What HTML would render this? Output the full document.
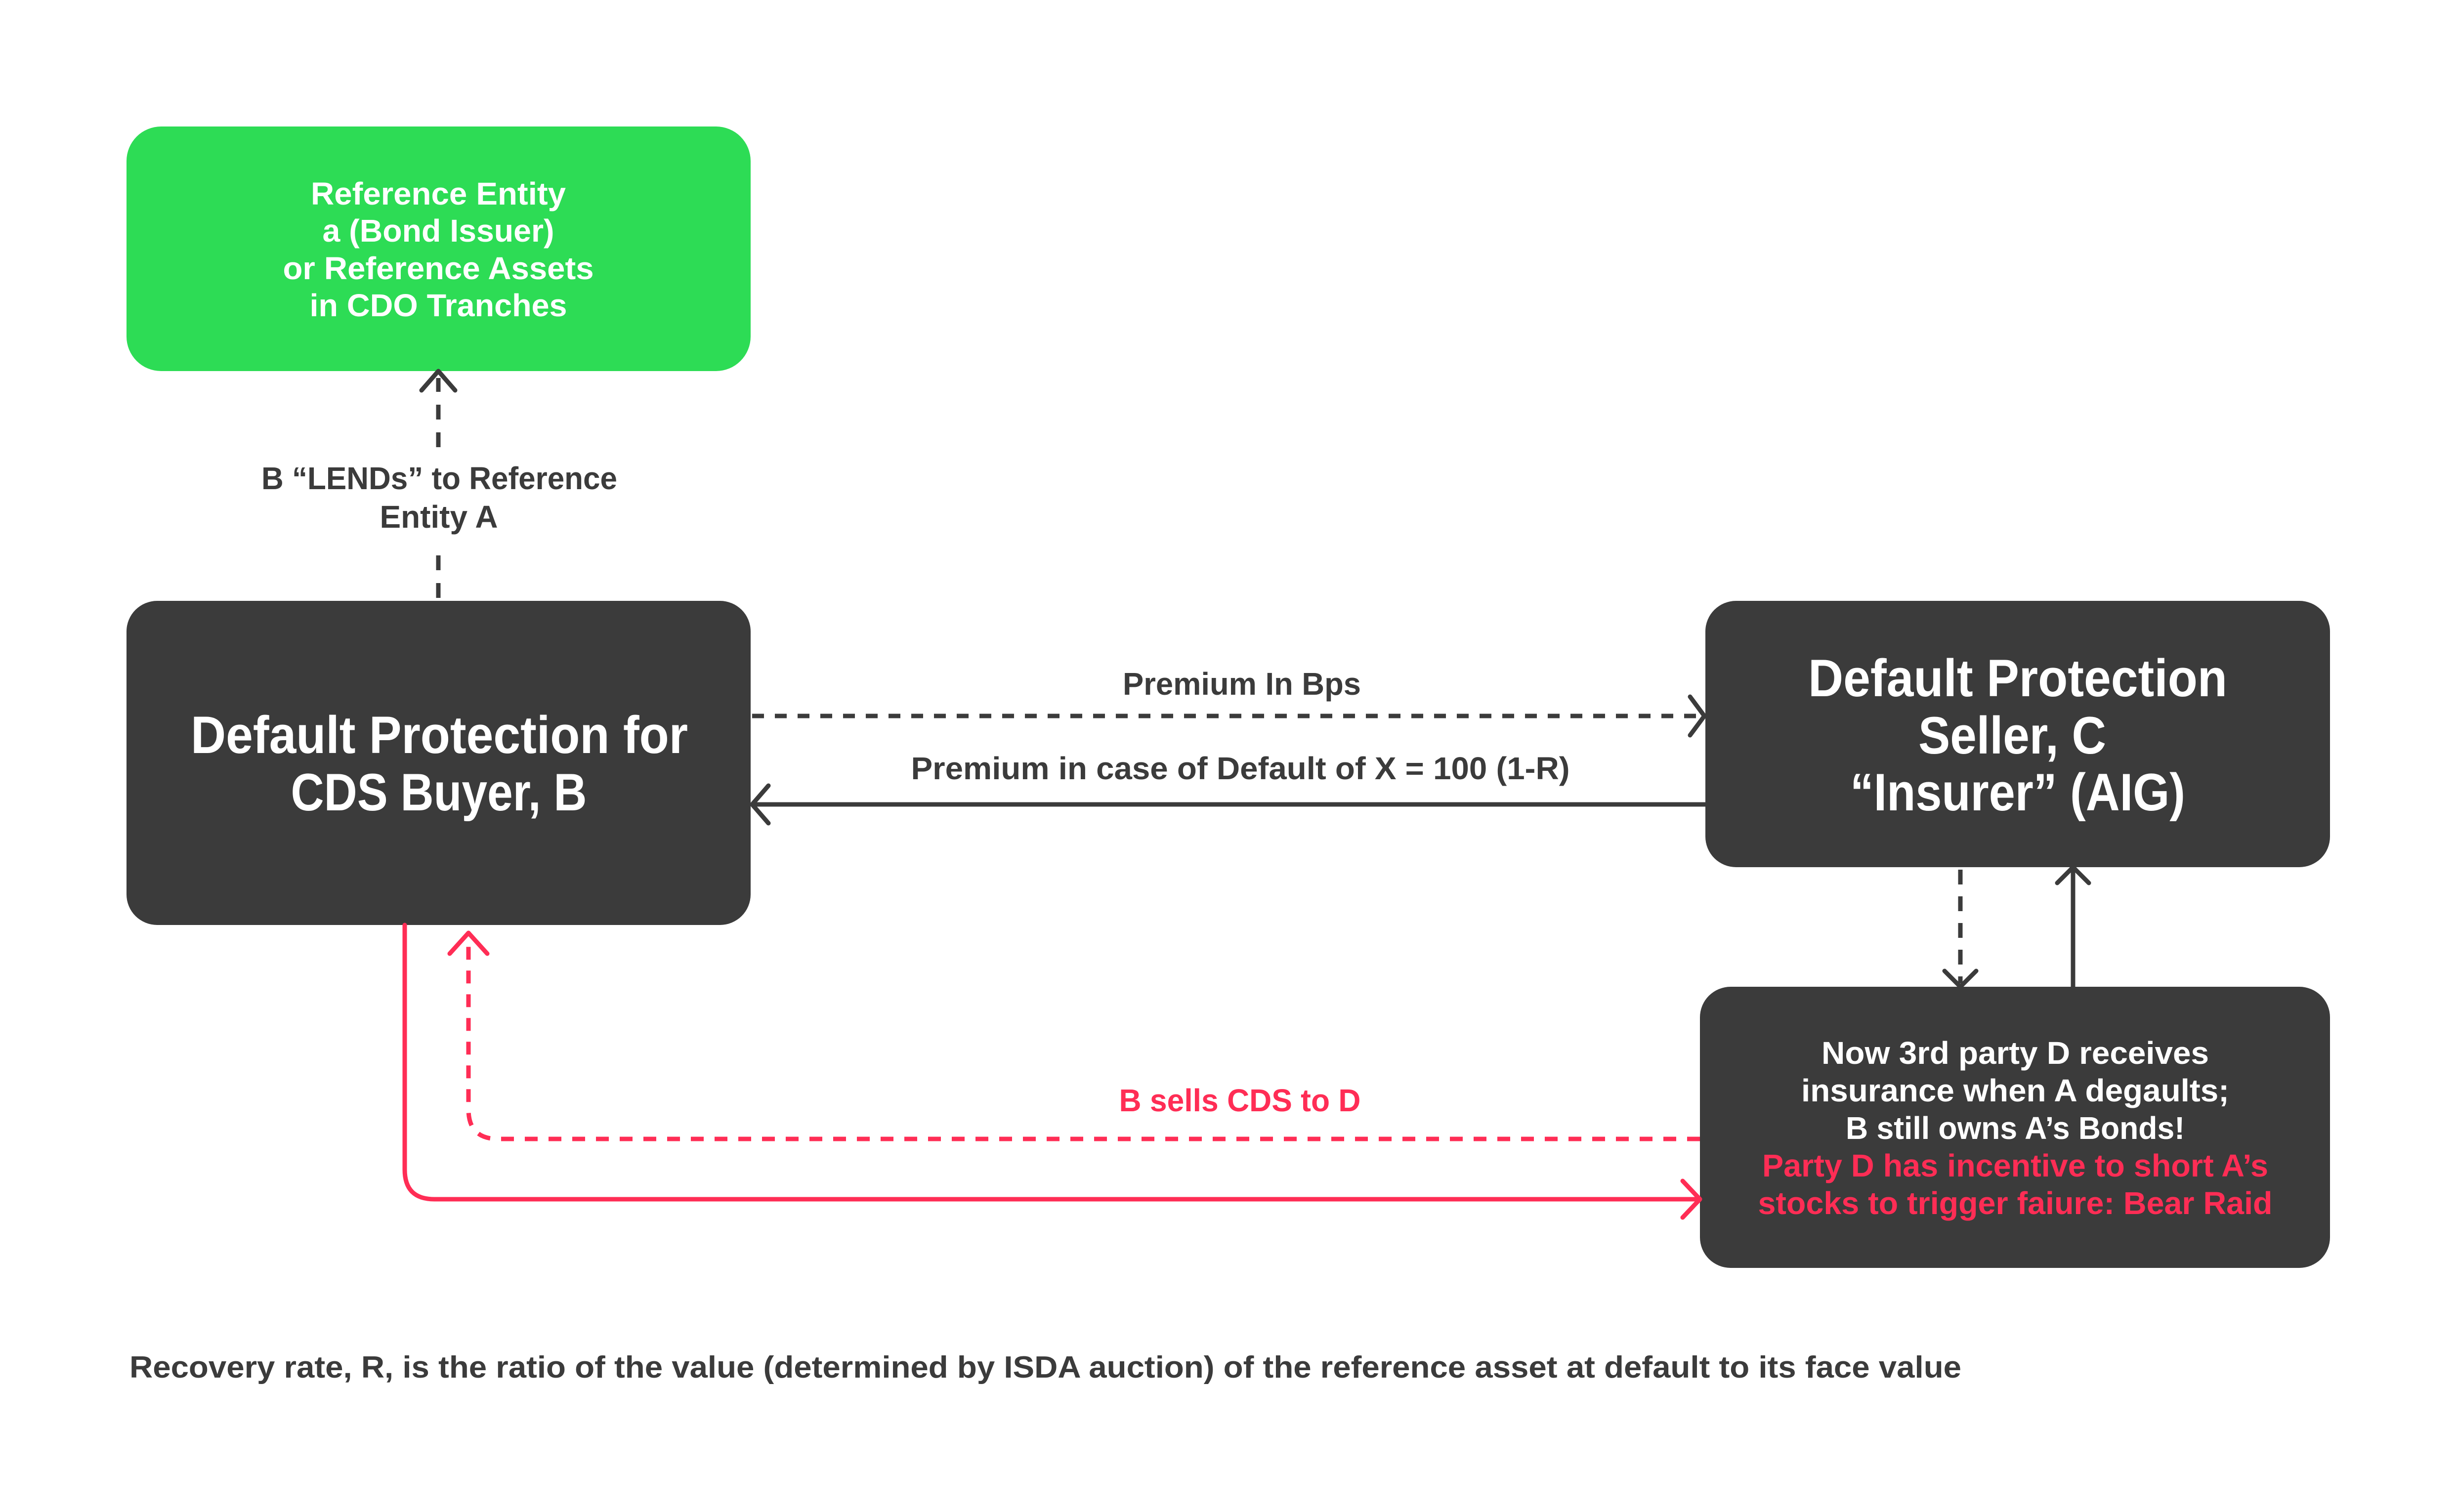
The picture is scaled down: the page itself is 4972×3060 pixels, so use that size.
<!DOCTYPE html>
<html><head><meta charset="utf-8"><style>
html,body{margin:0;padding:0;background:#fff}
svg{display:block}
text{font-family:"Liberation Sans",sans-serif;font-weight:bold}
</style></head><body>
<svg width="4972" height="3060" viewBox="0 0 4972 3060" xmlns="http://www.w3.org/2000/svg">
<rect width="4972" height="3060" fill="#fff"/>
<rect x="256" y="256" width="1263" height="495" rx="70" fill="#2ddc55"/>
<rect x="256" y="1216" width="1263" height="656" rx="62" fill="#3b3b3b"/>
<rect x="3451" y="1216" width="1264" height="539" rx="62" fill="#3b3b3b"/>
<rect x="3440" y="1997" width="1275" height="569" rx="62" fill="#3b3b3b"/>

<g fill="none" stroke="#3b3b3b" stroke-width="9" stroke-linecap="round" stroke-linejoin="round">
<path d="M887 1210 V1110" stroke-dasharray="30 26" stroke-linecap="butt"/>
<path d="M887 905 V765" stroke-dasharray="30 26" stroke-linecap="butt"/>
<path d="M853 790 L887 751 L921 790"/>
<path d="M1522 1449 H3440" stroke-dasharray="24 22" stroke-linecap="butt"/>
<path d="M3420 1410 L3449 1449 L3420 1488"/>
<path d="M3451 1628 H1525"/>
<path d="M1555 1590 L1522 1628 L1555 1666"/>
<path d="M3967 1760 V1990" stroke-dasharray="30 24" stroke-linecap="butt"/>
<path d="M3935 1965 L3967 1997 L3999 1965"/>
<path d="M4195 1997 V1758"/>
<path d="M4163 1787 L4195 1755 L4227 1787"/>
</g>
<g fill="none" stroke="#ff2d55" stroke-width="9" stroke-linecap="round" stroke-linejoin="round">
<path d="M3440 2305 H1008 Q948 2305 948 2245 V1895" stroke-dasharray="26 22" stroke-linecap="butt"/>
<path d="M910 1930 L948 1888 L986 1930"/>
<path d="M819 1872 V2367 Q819 2427 879 2427 H3436"/>
<path d="M3405 2390 L3440 2427 L3405 2464"/>
</g>

<g fill="#fff" text-anchor="middle" font-size="64">
<text x="887" y="414" textLength="516" lengthAdjust="spacingAndGlyphs">Reference Entity</text>
<text x="887" y="489" textLength="469" lengthAdjust="spacingAndGlyphs">a (Bond Issuer)</text>
<text x="887" y="565" textLength="629" lengthAdjust="spacingAndGlyphs">or Reference Assets</text>
<text x="887" y="640" textLength="521" lengthAdjust="spacingAndGlyphs">in CDO Tranches</text>
</g>
<g fill="#3b3b3b" text-anchor="middle" font-size="64">
<text x="889" y="990" textLength="720" lengthAdjust="spacingAndGlyphs">B “LENDs” to Reference</text>
<text x="888" y="1068" textLength="239" lengthAdjust="spacingAndGlyphs">Entity A</text>
<text x="2513" y="1406" textLength="482" lengthAdjust="spacingAndGlyphs">Premium In Bps</text>
<text x="2510" y="1577" textLength="1333" lengthAdjust="spacingAndGlyphs">Premium in case of Default of X = 100 (1-R)</text>
</g>
<text x="2509" y="2249" fill="#ff2d55" text-anchor="middle" font-size="64" textLength="489" lengthAdjust="spacingAndGlyphs">B sells CDS to D</text>

<g fill="#fff" text-anchor="middle" font-size="107">
<text x="889" y="1524" textLength="1006" lengthAdjust="spacingAndGlyphs">Default Protection for</text>
<text x="888" y="1640" textLength="599" lengthAdjust="spacingAndGlyphs">CDS Buyer, B</text>
<text x="4083" y="1409" textLength="848" lengthAdjust="spacingAndGlyphs">Default Protection</text>
<text x="4072" y="1525" textLength="380" lengthAdjust="spacingAndGlyphs">Seller, C</text>
<text x="4083" y="1640" textLength="678" lengthAdjust="spacingAndGlyphs">“Insurer” (AIG)</text>
</g>
<g text-anchor="middle" font-size="64">
<text x="4078" y="2153" fill="#fff" textLength="784" lengthAdjust="spacingAndGlyphs">Now 3rd party D receives</text>
<text x="4078" y="2229" fill="#fff" textLength="866" lengthAdjust="spacingAndGlyphs">insurance when A degaults;</text>
<text x="4078" y="2305" fill="#fff" textLength="686" lengthAdjust="spacingAndGlyphs">B still owns A’s Bonds!</text>
<text x="4078" y="2381" fill="#ff2d55" textLength="1024" lengthAdjust="spacingAndGlyphs">Party D has incentive to short A’s</text>
<text x="4078" y="2457" fill="#ff2d55" textLength="1041" lengthAdjust="spacingAndGlyphs">stocks to trigger faiure: Bear Raid</text>
</g>
<text x="262" y="2788" fill="#3b3b3b" font-size="62" textLength="3707" lengthAdjust="spacingAndGlyphs">Recovery rate, R, is the ratio of the value (determined by ISDA auction) of the reference asset at default to its face value</text>
</svg>
</body></html>
